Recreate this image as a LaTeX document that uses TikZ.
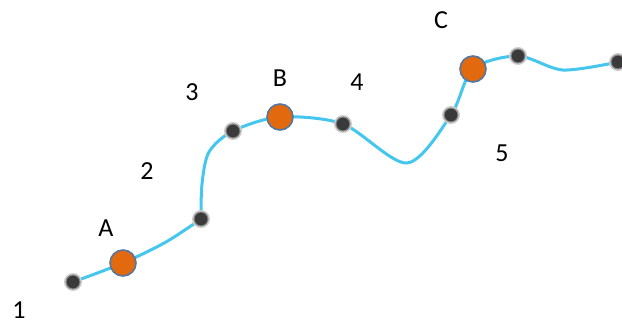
\documentclass[tikz,border=0pt]{standalone}
\usepackage{fontspec}
\setmainfont{Carlito}
\definecolor{curveblue}{HTML}{45C6EE}
\definecolor{dotgray}{HTML}{3A3A3A}
\definecolor{ptorange}{HTML}{E2690E}
\definecolor{ptedge}{HTML}{5576A0}
\tikzset{
  dotpt/.style={circle, fill=dotgray, minimum size=14pt, inner sep=0pt,
    preaction={draw=dotgray!25, line width=4pt}, draw=dotgray!60, line width=1pt},
  keypt/.style={circle, fill=ptorange, draw=ptedge, line width=1.6pt, minimum size=26pt, inner sep=0pt},
  lbl/.style={font=\fontsize{26}{28}\selectfont, text=black, inner sep=0pt},
  curve/.style={draw=curveblue, line width=3pt}
}
\begin{document}
\begin{tikzpicture}[x=1pt,y=-1pt]
\useasboundingbox (0,0) rectangle (622,324);
% curve support points
\coordinate (q1) at (73,282);
\coordinate (qA) at (123,263);
\coordinate (s0) at (166,242);
\coordinate (q2) at (201,219);
\coordinate (s1a) at (202,184);
\coordinate (s1b) at (209,152);
\coordinate (q3) at (233,131);
\coordinate (qB) at (280,117);
\coordinate (q4) at (343,124);
\coordinate (s2) at (407,163);
\coordinate (q5) at (451,115);
\coordinate (qC) at (473,69);
\coordinate (q6) at (518,56);
\coordinate (s3) at (563,70);
\coordinate (q7) at (618,62);
\draw[curve] plot[smooth, tension=0.5] coordinates {(q1) (qA) (s0) (q2)};
\draw[curve] plot[smooth, tension=0.5] coordinates {(q2) (s1a) (s1b) (q3) (qB) (q4) (s2) (q5) (qC) (q6) (s3) (q7)};
% points
\node[dotpt] (p1) at (q1) {};
\node[dotpt] (p2) at (q2) {};
\node[dotpt] (p3) at (q3) {};
\node[dotpt] (p4) at (q4) {};
\node[dotpt] (p5) at (q5) {};
\node[dotpt] (p6) at (q6) {};
\node[dotpt] (p7) at (q7) {};
\node[keypt] (A) at (qA) {};
\node[keypt] (B) at (qB) {};
\node[keypt] (C) at (qC) {};
% labels
\node[lbl] (l1) at (19,310) {1};
\node[lbl] (lA) at (106,228) {A};
\node[lbl] (l2) at (147,171) {2};
\node[lbl] (l3) at (192,92) {3};
\node[lbl] (lB) at (280,78) {B};
\node[lbl] (l4) at (357,82) {4};
\node[lbl] (lC) at (441,20) {C};
\node[lbl] (l5) at (502,153) {5};
\end{tikzpicture}
\end{document}
